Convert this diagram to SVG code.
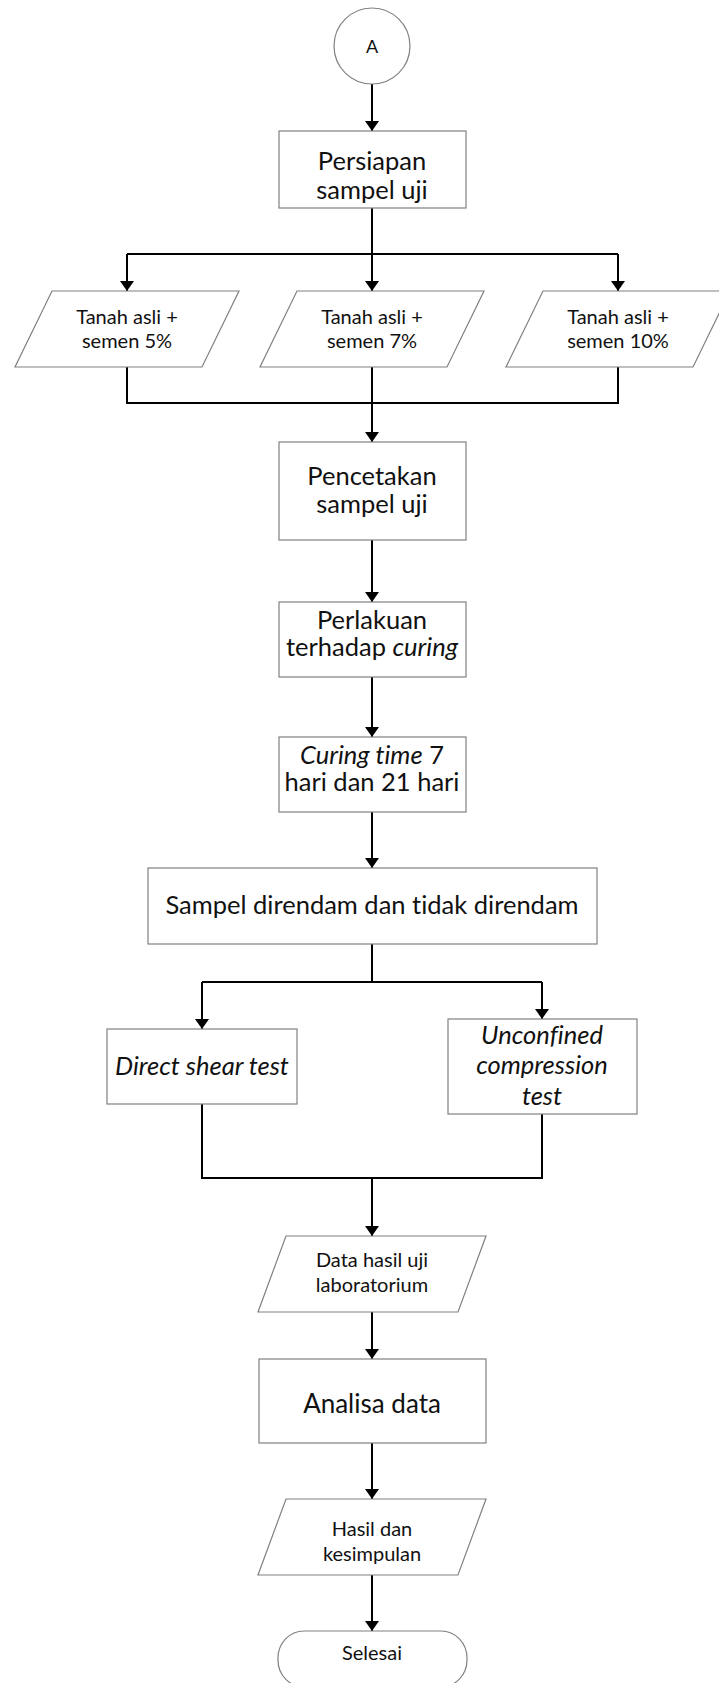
<svg xmlns="http://www.w3.org/2000/svg" width="719" height="1683" viewBox="0 0 719 1683">
<style>
.n{fill:#fff;stroke:#808080;stroke-width:1.2}
.c{fill:none;stroke:#000;stroke-width:2}
.t{font-family:Lato,"Liberation Sans",sans-serif;font-size:25.5px;fill:#111;text-anchor:middle;font-variant-ligatures:none}
.s{font-size:20px}
.i{font-style:italic}
</style>
<defs>
<marker id="ah" viewBox="0 0 10 14" refX="10" refY="7" markerWidth="10" markerHeight="14" markerUnits="userSpaceOnUse" orient="auto">
<path d="M0,0 L10,7 L0,14 z" fill="#000"/>
</marker>
</defs>
<rect width="719" height="1683" fill="#fff"/>
<g id="connectors">
<path class="c" d="M372,84 V131" marker-end="url(#ah)"/>
<path class="c" d="M372,208 V291" marker-end="url(#ah)"/>
<path class="c" d="M127,254 H618"/>
<path class="c" d="M127,254 V291" marker-end="url(#ah)"/>
<path class="c" d="M618,254 V291" marker-end="url(#ah)"/>
<path class="c" d="M127,367 V403 H618 V367"/>
<path class="c" d="M372,367 V442" marker-end="url(#ah)"/>
<path class="c" d="M372,540 V602" marker-end="url(#ah)"/>
<path class="c" d="M372,677 V737" marker-end="url(#ah)"/>
<path class="c" d="M372,812 V868" marker-end="url(#ah)"/>
<path class="c" d="M372,944 V982"/>
<path class="c" d="M202,982 H542"/>
<path class="c" d="M202,982 V1029" marker-end="url(#ah)"/>
<path class="c" d="M542,982 V1019" marker-end="url(#ah)"/>
<path class="c" d="M202,1104 V1178 H542 V1114"/>
<path class="c" d="M372,1178 V1236" marker-end="url(#ah)"/>
<path class="c" d="M372,1312 V1359" marker-end="url(#ah)"/>
<path class="c" d="M372,1443 V1499" marker-end="url(#ah)"/>
<path class="c" d="M372,1575 V1631" marker-end="url(#ah)"/>
</g>
<g id="nodeA">
<circle class="n" cx="372" cy="46" r="38"/>
<text class="t" x="372" y="53" style="font-size:18px">A</text>
</g>
<g id="persiapan">
<rect class="n" x="279" y="131" width="187" height="77"/>
<text class="t" x="372" y="170">Persiapan</text>
<text class="t" x="372" y="199">sampel uji</text>
</g>
<g id="semen5">
<polygon class="n" points="52,291 239,291 202,367 15,367"/>
<text class="t s" x="127" y="324">Tanah asli +</text>
<text class="t s" x="127" y="348">semen 5%</text>
</g>
<g id="semen7">
<polygon class="n" points="297,291 484,291 447,367 260,367"/>
<text class="t s" x="372" y="324">Tanah asli +</text>
<text class="t s" x="372" y="348">semen 7%</text>
</g>
<g id="semen10">
<polygon class="n" points="543,291 730,291 693,367 506,367"/>
<text class="t s" x="618" y="324">Tanah asli +</text>
<text class="t s" x="618" y="348">semen 10%</text>
</g>
<g id="pencetakan">
<rect class="n" x="279" y="442" width="187" height="98"/>
<text class="t" x="372" y="485">Pencetakan</text>
<text class="t" x="372" y="513">sampel uji</text>
</g>
<g id="perlakuan">
<rect class="n" x="279" y="602" width="187" height="75"/>
<text class="t" x="372" y="629">Perlakuan</text>
<text class="t" x="372" y="656">terhadap <tspan class="i">curing</tspan></text>
</g>
<g id="curingtime">
<rect class="n" x="279" y="737" width="187" height="75"/>
<text class="t" x="372" y="764"><tspan class="i">Curing time</tspan> 7</text>
<text class="t" x="372" y="791">hari dan 21 hari</text>
</g>
<g id="sampel">
<rect class="n" x="148" y="868" width="449" height="76"/>
<text class="t" x="372" y="914">Sampel direndam dan tidak direndam</text>
</g>
<g id="directshear">
<rect class="n" x="107" y="1029" width="190" height="75"/>
<text class="t i" x="202" y="1075">Direct shear test</text>
</g>
<g id="unconfined">
<rect class="n" x="448" y="1019" width="189" height="95"/>
<text class="t i" x="542" y="1044">Unconfined</text>
<text class="t i" x="542" y="1074">compression</text>
<text class="t i" x="542" y="1105">test</text>
</g>
<g id="datahasil">
<polygon class="n" points="286,1236 486,1236 458,1312 258,1312"/>
<text class="t s" x="372" y="1267">Data hasil uji</text>
<text class="t s" x="372" y="1292">laboratorium</text>
</g>
<g id="analisa">
<rect class="n" x="259" y="1359" width="227" height="84"/>
<text class="t" x="372" y="1413" style="font-size:26px">Analisa data</text>
</g>
<g id="hasil">
<polygon class="n" points="286,1499 486,1499 458,1575 258,1575"/>
<text class="t s" x="372" y="1536">Hasil dan</text>
<text class="t s" x="372" y="1561">kesimpulan</text>
</g>
<g id="selesai">
<rect class="n" x="278" y="1631" width="189" height="56" rx="26" ry="27"/>
<text class="t s" x="372" y="1660">Selesai</text>
</g>
</svg>
